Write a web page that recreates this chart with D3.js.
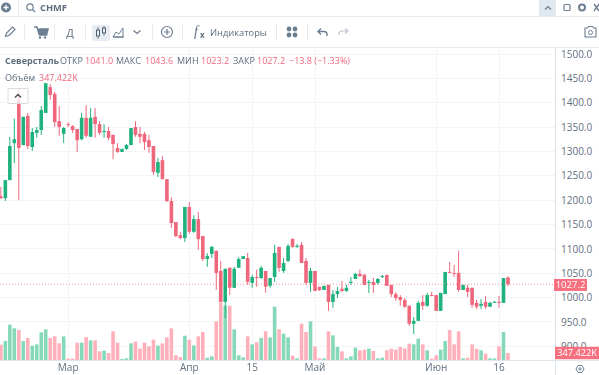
<!DOCTYPE html>
<html>
  <head>
    <meta charset="utf-8" />
    <title>CHMF</title>
    <script src="https://d3js.org/d3.v7.min.js"></script>
    <style>
      html, body { margin: 0; background: #fff; overflow: hidden; }
      svg { display: block; font-family: "Open Sans", sans-serif; filter: blur(0.3px); }
      .axis path { display: none; }
      .axis line { display: none; }
      .axis text { font-family: "Open Sans", sans-serif; font-size: 10px; fill: #5f6f80; }
    </style>
  </head>
  <body>
    <svg width="599" height="375"></svg>

    <script>
      // one entry per trading day
      const opens = [1208,1204,1241,1317,1406,1313,1373,1309,1338,1344,1379,1432,1418,1362,1336,1356,1352,1346,1325,1369,1330,1371,1356,1340,1342,1334,1307,1299,1305,1313,1350,1336,1336,1323,1311,1256,1282,1243,1198,1155,1128,1122,1186,1135,1161,1126,1079,1089.5,1096,1054.5,991,1061,1020,1061,1079,1081,1030,1042,1040,1054.5,1024,1042,1104,1054.5,1075,1120,1104,1108,1075,1030,1054.5,1022,1015.5,1026,991,1007,1018,1013.5,1030,1038,1048.5,1046.5,1030,1032,1030,1042,1046.5,1026,1007,1001,995,983,946,952,991,983,1005,1005,972.5,1007,1052.5,1050.5,1050.5,1015.5,1020,1020,989,983,991,981,989,991,989,1041];
      const highs = [1227,1241,1330,1367,1430,1371,1379,1348,1350,1393,1440,1438,1422,1393,1350,1360,1354,1346,1379,1395,1389,1389,1362,1356,1350,1334,1317,1305,1315,1348,1362,1350,1340,1334,1311,1286.5,1291,1243,1206,1155,1135,1186,1196,1169,1176,1126,1091,1106,1096,1075,1059,1061,1063,1083,1085,1091.5,1046.5,1057,1065,1054.5,1040,1108,1104,1081,1110,1122,1110,1114,1081,1061,1054.5,1022,1024,1026,1015.5,1022,1034,1026,1042,1050.5,1057,1048.5,1036,1040,1040,1046.5,1046.5,1026,1011.5,1005,999,983,960,993,1005,1009.5,1011.5,1005,1009.5,1052.5,1073,1067,1096,1026,1026,1020,995,997,1003,991,993,1003,1040,1043.6];
      const lows = [1202,1198,1241,1276,1200,1313,1305,1301,1328,1334,1379,1406,1350,1332,1317,1350,1338,1299,1323,1328,1330,1328,1334,1328,1323,1284,1297,1299,1303,1313,1330,1317,1303,1297,1252,1247.5,1243,1196,1143,1124,1120,1114,1131,1133,1098,1075,1063,1081,1015.5,991,958,1005,1020,1061,1079,1026,1020,1022,1038,1009.5,1020,1032,1052.5,1050.5,1073,1102,1102,1071,1026,1011.5,1013.5,1013.5,1015.5,972.5,979,999,1011.5,1011.5,1026,1038,1042,1026,1009.5,1009.5,1026,1040,1024,1001,993,983,979,942,925,952,974.5,981,1003,972.5,972.5,1007,1050.5,1042,1011.5,1015.5,1001,979,976.5,976.5,976.5,981,989,979,989,1023.2];
      const closes = [1204,1241,1311,1325,1307,1371,1311,1340,1344,1385,1440,1416,1360,1350,1348,1354,1344,1323,1369,1332,1369,1356,1338,1342,1328,1315,1299,1305,1313,1348,1334,1330,1319,1309,1258,1278,1243,1198,1153,1126,1122,1186,1135,1161,1120,1079,1085,1104,1050.5,991,1059,1020,1059,1079,1085,1032,1042,1040,1061,1022,1040,1091.5,1061,1071,1106,1104,1106,1071,1030,1054.5,1013.5,1015.5,1024,991,1007,1013.5,1013.5,1020,1032,1048.5,1044,1026,1032,1026,1038,1044,1024,1007,999,995,981,946,952,989,983,1005,1003,972.5,1009.5,1052.5,1050.5,1048.5,1015.5,1026,1011.5,985,981,987,981,989,991,989,1040,1027.2];
      // volume, thousands
      const volume = [761,943,1753,1571,1489,943,1092,711,777,1373,1522,1092,1174,827,1174,66,66,860,860,1141,976,976,430,463,347,1422,860,50,83,827,910,562,860,678,1009,711,827,1125,1571,232,149,1207,1009,728,1174,1389,116,182,1919,2861,2700,2696,1522,232,132,1174,777,877,1092,1422,1125,2646,1522,1307,1125,215,83,1803,1389,1919,662,83,83,1422,1224,645,430,83,182,612,480,513,562,447,83,116,480,562,513,645,579,810,777,1059,777,480,66,232,513,943,1489,777,1422,83,116,777,562,480,314,83,83,678,1389,347.422];

      const priceTicks = [900,950,1000,1050,1100,1150,1200,1250,1300,1350,1400,1450,1500];
      const timeIdx = [15,42,56,70,97,111];
      const timeLabels = ["Мар","Апр","15","Май","Июн","16"];

      const legendLabels = ["ОТКР","МАКС","МИН","ЗАКР"];
      const legendValues = ["1041.0","1043.6","1023.2","1027.2"];
      const lastChange = "−13.8 (−1.33%)";
      const lastVolume = "347.422K";
      const lastClose = closes[closes.length - 1];

      const red = "#ef677d", green = "#1fb27c", redVol = "#ffb0bb", greenVol = "#86d9b8";
      const ink = "#5f6f80", line = "#dfe5ec", gridCol = "#f2f4f7", iconCol = "#6c7f92";

      const svg = d3.select("svg");
      const plotRight = 555, plotBottom = 360, plotTop = 47;

      const x = d3.scaleBand().domain(d3.range(opens.length)).range([-0.94, -0.94 + 4.48 * opens.length]).paddingInner(0.2);
      const y = d3.scaleLinear().domain([900, 1500]).range([346.2, 54]);
      const yVol = d3.scaleLinear().domain([0, 347.422]).range([plotBottom, plotBottom - 7]);
      const cx = i => x(i) + x.bandwidth() / 2;

      // grid
      const grid = svg.append("g").attr("stroke", gridCol).attr("shape-rendering", "crispEdges");
      grid.selectAll("line.h").data(priceTicks).enter().append("line").attr("class", "h")
        .attr("x1", 0).attr("x2", plotRight).attr("y1", d => y(d)).attr("y2", d => y(d));
      grid.selectAll("line.v").data(timeIdx).enter().append("line").attr("class", "v")
        .attr("x1", cx).attr("x2", cx).attr("y1", plotTop).attr("y2", plotBottom);

      // volume
      svg.append("g").selectAll("rect").data(volume).enter().append("rect")
        .attr("x", (d, i) => x(i))
        .attr("width", x.bandwidth())
        .attr("y", d => yVol(d))
        .attr("height", d => plotBottom - yVol(d))
        .attr("fill", (d, i) => closes[i] >= opens[i] ? greenVol : redVol);

      // candles
      const candles = svg.append("g").selectAll("g").data(d3.range(opens.length)).enter().append("g")
        .attr("fill", i => closes[i] >= opens[i] ? green : red)
        .attr("stroke", i => closes[i] >= opens[i] ? green : red);
      candles.append("line")
        .attr("x1", cx).attr("x2", cx)
        .attr("y1", i => y(highs[i])).attr("y2", i => y(lows[i]))
        .attr("stroke-width", 1);
      candles.append("rect")
        .attr("stroke", "none")
        .attr("x", i => x(i))
        .attr("width", x.bandwidth())
        .attr("y", i => y(Math.max(opens[i], closes[i])))
        .attr("height", i => Math.max(1, Math.abs(y(opens[i]) - y(closes[i]))));

      // last price line
      svg.append("line").attr("x1", 0).attr("x2", plotRight)
        .attr("y1", y(lastClose)).attr("y2", y(lastClose))
        .attr("stroke", red).attr("stroke-opacity", 0.7).attr("stroke-dasharray", "1 2");

      // axes
      svg.append("rect").attr("x", plotRight).attr("y", plotTop).attr("width", 44).attr("height", 328).attr("fill", "#fff");
      svg.append("rect").attr("x", 0).attr("y", plotBottom).attr("width", plotRight).attr("height", 15).attr("fill", "#fff");
      svg.append("g").attr("class", "axis")
        .attr("transform", `translate(${plotRight},0)`)
        .call(d3.axisRight(y).tickValues(priceTicks).tickSize(0).tickPadding(6).tickFormat(d3.format(".1f")));
      svg.append("g").attr("class", "axis")
        .attr("transform", `translate(0,${plotBottom})`)
        .call(d3.axisBottom(x).tickValues(timeIdx).tickSize(0).tickPadding(4)
          .tickFormat(i => timeLabels[timeIdx.indexOf(i)]));
      svg.append("line").attr("x1", 0).attr("x2", 599).attr("y1", plotBottom + 0.5).attr("y2", plotBottom + 0.5).attr("stroke", line);
      svg.append("line").attr("x1", plotRight + 0.5).attr("x2", plotRight + 0.5).attr("y1", plotTop).attr("y2", 375).attr("stroke", line);

      function priceTag(x0, w, yc, h, label, size) {
        svg.append("rect").attr("x", x0).attr("y", yc - h / 2).attr("width", w).attr("height", h).attr("fill", "#f7707f");
        svg.append("text").attr("x", x0 + w / 2).attr("y", yc).attr("dy", "0.35em").attr("text-anchor", "middle")
          .attr("font-size", size).attr("fill", "#fff").text(label);
      }
      priceTag(554, 33, y(lastClose) + 0.7, 12, d3.format(".1f")(lastClose), 9.5);
      priceTag(555, 44, 353, 12.5, lastVolume, 9.2);

      // legend
      const txt = (px, py, s, fill, weight) => svg.append("text").attr("x", px).attr("y", py)
        .attr("font-size", 9).attr("fill", fill || ink).attr("font-weight", weight || 400).text(s);
      const legendLabelX = [60, 116, 177, 233];
      const legendValueX = [85, 145, 201, 257];
      txt(5, 63.5, "Северсталь", ink, 700);
      legendLabels.forEach((s, i) => {
        txt(legendLabelX[i], 63.5, s);
        txt(legendValueX[i], 63.5, legendValues[i], red);
      });
      txt(289, 63.5, lastChange, red);
      txt(5, 81, "Объём");
      txt(39, 81, lastVolume, red);

      // collapse button
      svg.append("rect").attr("x", 8).attr("y", 88.5).attr("width", 20).attr("height", 15).attr("rx", 1)
        .attr("fill", "#fff").attr("fill-opacity", 0.75).attr("stroke", "#d6d9dd");
      svg.append("path").attr("d", "M15 97.5l3-3 3 3").attr("fill", "none").attr("stroke", "#444").attr("stroke-width", 1.3);

      // toolbars
      const bar = svg.append("g");
      bar.append("rect").attr("x", 539).attr("y", 0).attr("width", 17).attr("height", 16).attr("fill", "#dfe7ef");
      bar.append("rect").attr("x", 92).attr("y", 25).attr("width", 18).attr("height", 16).attr("rx", 2).attr("fill", "#e8edf3");
      [16.5, 47.5].forEach(v => bar.append("line").attr("x1", 0).attr("x2", 599).attr("y1", v).attr("y2", v).attr("stroke", "#e6ebf1"));
      bar.append("line").attr("x1", 18.5).attr("x2", 18.5).attr("y1", 0).attr("y2", 16).attr("stroke", "#e6ebf1");
      [24.5, 54.5, 85.5, 152.5, 182.5, 276.5, 307.5].forEach(v =>
        bar.append("line").attr("x1", v).attr("x2", v).attr("y1", 24).attr("y2", 40).attr("stroke", "#e6ebf1"));

      const icon = (d, sw, fill) => bar.append("path").attr("d", d)
        .attr("fill", fill || "none").attr("stroke", fill ? "none" : iconCol).attr("stroke-width", sw || 1.2);
      const dot = (cx0, cy0, r, fill) => bar.append("circle").attr("cx", cx0).attr("cy", cy0).attr("r", r).attr("fill", fill);

      // plus (top left)
      dot(6, 7.5, 5, iconCol);
      icon("M3.5 7.5h5M6 5v5", 1.3).attr("stroke", "#fff");
      // search
      bar.append("circle").attr("cx", 30).attr("cy", 7).attr("r", 3.2).attr("fill", "none").attr("stroke", iconCol).attr("stroke-width", 1.2);
      icon("M32.5 9.5l2.5 2.5");
      bar.append("text").attr("x", 40).attr("y", 11).attr("font-size", 9.3).attr("font-weight", 700).attr("fill", ink).text("CHMF");
      // pencil
      icon("M5.5 36.5l1-3.5 6-6 2.5 2.5-6 6z");
      // cart
      icon("M34 27h3l2.5 8h7l1.5-6h-9", 1.6);
      icon("M37.5 29h10l-1.5 6h-7z", 1, iconCol);
      dot(40, 37.5, 1.2, iconCol);
      dot(45, 37.5, 1.2, iconCol);
      bar.append("text").attr("x", 70).attr("y", 36.5).attr("text-anchor", "middle").attr("font-size", 11).attr("fill", ink).text("Д");
      // candle type
      icon("M98 27v12M104 26v10", 1);
      bar.append("rect").attr("x", 96.5).attr("y", 30).attr("width", 3).attr("height", 6).attr("fill", "#e8edf3").attr("stroke", "#4d6072");
      bar.append("rect").attr("x", 102.5).attr("y", 28).attr("width", 3).attr("height", 5).attr("fill", "#e8edf3").attr("stroke", "#4d6072");
      // area type
      icon("M113 37l3-5 3 2 4-6v9z", 1);
      icon("M113 37h11", 1);
      // chevron
      icon("M133.5 30.5l3.5 3 3.5-3", 1.3);
      // plus circle
      bar.append("circle").attr("cx", 167).attr("cy", 32).attr("r", 5.5).attr("fill", "none").attr("stroke", iconCol).attr("stroke-width", 1.2);
      icon("M164 32h6M167 29v6", 1.2);
      // fx
      bar.append("text").attr("x", 194).attr("y", 36).attr("font-family", "Liberation Serif").attr("font-style", "italic").attr("font-size", 14).attr("fill", ink).text("f");
      bar.append("text").attr("x", 200).attr("y", 38).attr("font-size", 8).attr("font-weight", 700).attr("fill", ink).text("x");
      bar.append("text").attr("x", 210).attr("y", 35.5).attr("font-size", 9.3).attr("fill", ink).text("Индикаторы");
      // template grid
      [[289, 29], [295, 29], [289, 35], [295, 35]].forEach(p => dot(p[0], p[1], 2.4, iconCol));
      // undo, redo
      icon("M327 36v-1.5a3 3 0 0 0-3-3h-6M321 28.5l-3 3 3 3", 1.4);
      icon("M339 35v-1a3 3 0 0 1 3-3h5M345 28.5l3 2.5-3 2.5", 1.2).attr("stroke", "#bcc6d0");
      // camera
      icon("M585 28h2.5l1-1.5h4l1 1.5h2.5v9h-11z", 1.1);
      bar.append("circle").attr("cx", 590.5).attr("cy", 32.5).attr("r", 2).attr("fill", "none").attr("stroke", iconCol);
      // top right controls
      icon("M545 9.5l3-3 3 3", 1.2);
      bar.append("rect").attr("x", 564).attr("y", 4.5).attr("width", 6).attr("height", 6).attr("rx", 1).attr("fill", "none").attr("stroke", iconCol).attr("stroke-width", 1.2);
      bar.append("circle").attr("cx", 582).attr("cy", 7.5).attr("r", 3).attr("fill", "none").attr("stroke", iconCol).attr("stroke-width", 2);
      icon("M594 4l5 7M599 4l-5 7", 1.3);
      // settings (bottom right)
      svg.append("path").attr("d", "M576 369l2-3.5h4l2 3.5-2 3.5h-4z").attr("fill", "none").attr("stroke", iconCol);
      svg.append("circle").attr("cx", 580).attr("cy", 369).attr("r", 1.2).attr("fill", "none").attr("stroke", iconCol);
    </script>
  </body>
</html>
